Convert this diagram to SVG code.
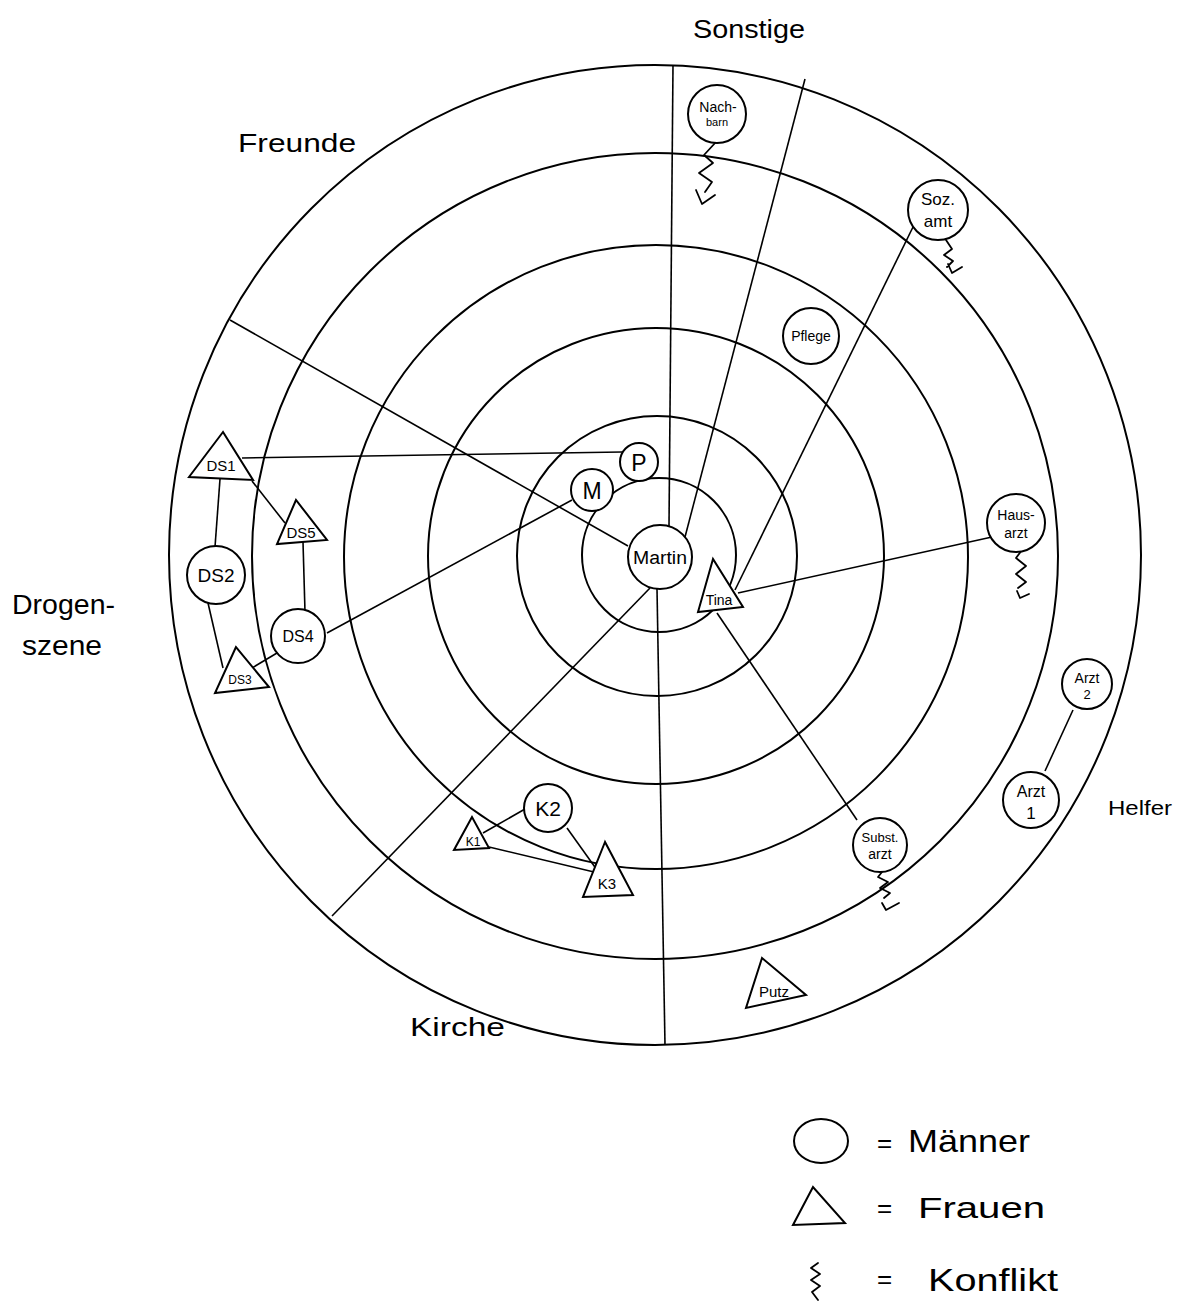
<svg xmlns="http://www.w3.org/2000/svg" width="1187" height="1306" viewBox="0 0 1187 1306">
<style>
.ring{fill:none;stroke:#000;stroke-width:2}
.sec{stroke:#000;stroke-width:1.6;fill:none}
.edge{stroke:#000;stroke-width:1.6;fill:none}
.zz{stroke:#000;stroke-width:1.8;fill:none;stroke-linejoin:round;stroke-linecap:round}
.nd{fill:#fff;stroke:#000;stroke-width:2}
.t{font-family:"Liberation Sans",Arial,sans-serif;fill:#000;text-anchor:middle}
.lbl{font-family:"Liberation Sans",Arial,sans-serif;fill:#000}
</style>
<rect width="1187" height="1306" fill="#fff"/>
<g id="rings">
<ellipse class="ring" cx="655" cy="555" rx="486" ry="490"/>
<circle class="ring" cx="655" cy="556" r="403"/>
<circle class="ring" cx="656" cy="557" r="312"/>
<circle class="ring" cx="656" cy="556" r="228"/>
<circle class="ring" cx="657" cy="556" r="140"/>
<circle class="ring" cx="659" cy="555" r="77"/>
</g>
<g id="sectors">
<line class="sec" x1="673" y1="65" x2="669" y2="526"/>
<line class="sec" x1="805" y1="79" x2="685" y2="537"/>
<line class="sec" x1="230" y1="320" x2="628" y2="546"/>
<line class="sec" x1="650" y1="588" x2="332" y2="916"/>
<line class="sec" x1="657" y1="589" x2="665" y2="1045"/>
</g>
<g id="sector-labels">
<text class="lbl" x="693" y="38" font-size="26" textLength="112" lengthAdjust="spacingAndGlyphs">Sonstige</text>
<text class="lbl" x="238" y="152" font-size="26" textLength="118" lengthAdjust="spacingAndGlyphs">Freunde</text>
<text class="lbl" x="12" y="614" font-size="27" textLength="103" lengthAdjust="spacingAndGlyphs">Drogen-</text>
<text class="lbl" x="22" y="655" font-size="27" textLength="80" lengthAdjust="spacingAndGlyphs">szene</text>
<text class="lbl" x="410" y="1036" font-size="26" textLength="95" lengthAdjust="spacingAndGlyphs">Kirche</text>
<text class="lbl" x="1108" y="815" font-size="20" textLength="64" lengthAdjust="spacingAndGlyphs">Helfer</text>
</g>
<g id="connectors">
<line class="edge" x1="242" y1="458" x2="622" y2="452"/>
<line class="edge" x1="327" y1="633" x2="572" y2="500"/>
<line class="edge" x1="220" y1="479" x2="215" y2="547"/>
<line class="edge" x1="252" y1="481" x2="285" y2="523"/>
<line class="edge" x1="303" y1="542" x2="305" y2="612"/>
<line class="edge" x1="208" y1="603" x2="223" y2="668"/>
<line class="edge" x1="277" y1="653" x2="252" y2="668"/>
<line class="edge" x1="735" y1="590" x2="913" y2="227"/>
<line class="edge" x1="738" y1="593" x2="992" y2="537"/>
<line class="edge" x1="717" y1="613" x2="857" y2="820"/>
<line class="edge" x1="1073" y1="710" x2="1045" y2="771"/>
<line class="edge" x1="483" y1="833" x2="525" y2="809"/>
<line class="edge" x1="489" y1="847" x2="594" y2="872"/>
<line class="edge" x1="567" y1="828" x2="597" y2="870"/>
<path class="zz" d="M716,142 L704,155 L713,163 L699,173 L712,182 L705,192 M696,190 L702,204 L715,195"/>
<path class="zz" d="M946,240 L952,249 L944,255 L953,261 L947,267 M948,264 L952,273 L962,267"/>
<path class="zz" d="M1022,550 L1016,558 L1026,566 L1016,574 L1026,582 L1018,588 M1017,591 L1020,598 L1029,594"/>
<path class="zz" d="M882,872 L878,877 L888,882 L880,888 L890,893 L884,898 M882,903 L886,910 L899,903"/>
</g>
<g id="node-martin"><circle class="nd" cx="660" cy="557" r="32"/><text class="t" x="660" y="564" font-size="18" textLength="54" lengthAdjust="spacingAndGlyphs">Martin</text></g>
<g id="node-m"><circle class="nd" cx="592" cy="490" r="21"/><text class="t" x="592" y="499" font-size="23">M</text></g>
<g id="node-p"><circle class="nd" cx="639" cy="462" r="19"/><text class="t" x="639" y="471" font-size="23">P</text></g>
<g id="node-tina"><polygon class="nd" points="713,559 698,612 743,607"/><text class="t" x="719" y="605" font-size="14">Tina</text></g>
<g id="node-ds1"><polygon class="nd" points="223,432 189,477 253,480"/><text class="t" x="221" y="471" font-size="15">DS1</text></g>
<g id="node-ds5"><polygon class="nd" points="296,500 277,544 327,540"/><text class="t" x="301" y="538" font-size="15">DS5</text></g>
<g id="node-ds2"><circle class="nd" cx="216" cy="575" r="29"/><text class="t" x="216" y="582" font-size="19">DS2</text></g>
<g id="node-ds4"><circle class="nd" cx="298" cy="636" r="27"/><text class="t" x="298" y="642" font-size="16">DS4</text></g>
<g id="node-ds3"><polygon class="nd" points="236,647 215,693 269,687"/><text class="t" x="240" y="684" font-size="12">DS3</text></g>
<g id="node-nachbarn"><circle class="nd" cx="717" cy="114" r="29"/><text class="t" x="718" y="112" font-size="14">Nach-</text><text class="t" x="717" y="126" font-size="11">barn</text></g>
<g id="node-sozamt"><circle class="nd" cx="938" cy="210" r="30"/><text class="t" x="938" y="205" font-size="17">Soz.</text><text class="t" x="938" y="227" font-size="17">amt</text></g>
<g id="node-pflege"><circle class="nd" cx="811" cy="336" r="28"/><text class="t" x="811" y="341" font-size="14">Pflege</text></g>
<g id="node-hausarzt"><circle class="nd" cx="1016" cy="523" r="29"/><text class="t" x="1016" y="520" font-size="14">Haus-</text><text class="t" x="1016" y="538" font-size="14">arzt</text></g>
<g id="node-arzt2"><circle class="nd" cx="1087" cy="684" r="25"/><text class="t" x="1087" y="683" font-size="14">Arzt</text><text class="t" x="1087" y="699" font-size="13">2</text></g>
<g id="node-arzt1"><circle class="nd" cx="1031" cy="800" r="28"/><text class="t" x="1031" y="797" font-size="16">Arzt</text><text class="t" x="1031" y="819" font-size="17">1</text></g>
<g id="node-substarzt"><circle class="nd" cx="880" cy="845" r="27"/><text class="t" x="880" y="842" font-size="13">Subst.</text><text class="t" x="880" y="859" font-size="14">arzt</text></g>
<g id="node-k1"><polygon class="nd" points="472,817 454,850 489,848"/><text class="t" x="473" y="846" font-size="12">K1</text></g>
<g id="node-k2"><circle class="nd" cx="548" cy="808" r="24"/><text class="t" x="548" y="816" font-size="21">K2</text></g>
<g id="node-k3"><polygon class="nd" points="605,842 583,897 633,895"/><text class="t" x="607" y="889" font-size="15">K3</text></g>
<g id="node-putz"><polygon class="nd" points="762,958 746,1008 806,995"/><text class="t" x="774" y="997" font-size="15">Putz</text></g>
<g id="legend">
<ellipse class="nd" cx="821" cy="1141" rx="27" ry="22"/>
<text class="lbl" x="877" y="1152" font-size="26">=</text>
<text class="lbl" x="908" y="1152" font-size="32" textLength="122" lengthAdjust="spacingAndGlyphs">Männer</text>
<polygon class="nd" points="813,1187 793,1225 845,1223"/>
<text class="lbl" x="877" y="1217" font-size="26">=</text>
<text class="lbl" x="918" y="1218" font-size="30" textLength="127" lengthAdjust="spacingAndGlyphs">Frauen</text>
<path class="zz" d="M818,1263 L811,1268 L820,1274 L811,1280 L820,1286 L812,1292 L818,1300"/>
<text class="lbl" x="877" y="1288" font-size="26">=</text>
<text class="lbl" x="928" y="1291" font-size="32" textLength="130" lengthAdjust="spacingAndGlyphs">Konflikt</text>
</g>
</svg>
